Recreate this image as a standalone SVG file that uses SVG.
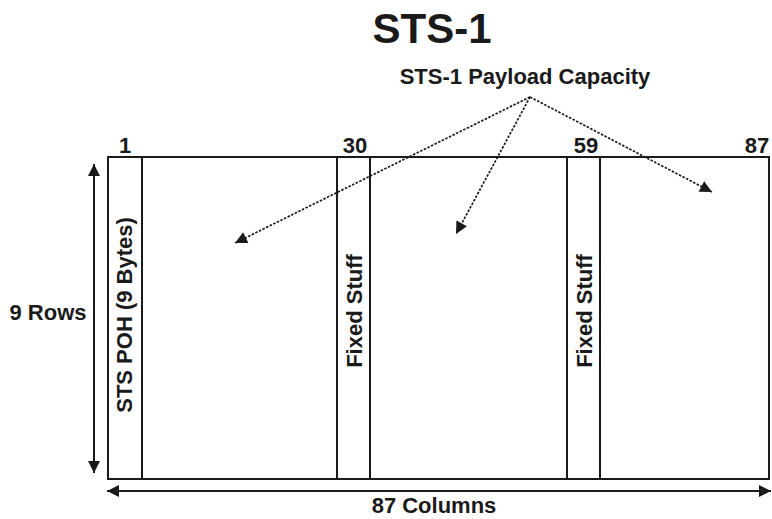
<svg xmlns="http://www.w3.org/2000/svg" width="772" height="519" viewBox="0 0 772 519">
<defs>
<style>
text{font-family:"Liberation Sans",Arial,sans-serif;font-weight:bold;fill:#1a1a1a}
.lbl{font-size:22px}
.box{fill:none;stroke:#1a1a1a;stroke-width:2}
.ln{stroke:#1a1a1a;stroke-width:2}
.dot{stroke:#1a1a1a;stroke-width:1.7;stroke-dasharray:2.5 1.5;fill:none}
.sol{stroke:#1a1a1a;stroke-width:2;fill:none}
</style>
<marker id="ah" viewBox="0 0 10 10" refX="10" refY="5" markerWidth="15" markerHeight="12" markerUnits="userSpaceOnUse" orient="auto">
<path d="M0,0 L10,5 L0,10 z" fill="#1a1a1a"/>
</marker>
<marker id="ah2" viewBox="0 0 10 10" refX="10" refY="5" markerWidth="14" markerHeight="12" markerUnits="userSpaceOnUse" orient="auto">
<path d="M0,0 L10,5 L0,10 z" fill="#1a1a1a"/>
</marker>
</defs>
<g id="title">
<text x="432" y="43" font-size="42" text-anchor="middle">STS-1</text>
</g>
<g id="payload-label">
<text x="525" y="84" class="lbl" text-anchor="middle">STS-1 Payload Capacity</text>
</g>
<g id="frame">
<rect x="108" y="157" width="661" height="322" class="box"/>
<line x1="142" y1="157" x2="142" y2="479" class="ln"/>
<line x1="337" y1="157" x2="337" y2="479" class="ln"/>
<line x1="370" y1="157" x2="370" y2="479" class="ln"/>
<line x1="567" y1="157" x2="567" y2="479" class="ln"/>
<line x1="600" y1="157" x2="600" y2="479" class="ln"/>
</g>
<g id="col-numbers">
<text x="125" y="153" class="lbl" text-anchor="middle">1</text>
<text x="355" y="153" class="lbl" text-anchor="middle">30</text>
<text x="586" y="153" class="lbl" text-anchor="middle">59</text>
<text x="757" y="153" class="lbl" text-anchor="middle">87</text>
</g>
<g id="poh">
<text class="lbl" text-anchor="middle" transform="translate(132,315) rotate(-90)">STS POH (9 Bytes)</text>
</g>
<g id="fixed1">
<text class="lbl" text-anchor="middle" transform="translate(362,311) rotate(-90)">Fixed Stuff</text>
</g>
<g id="fixed2">
<text class="lbl" text-anchor="middle" transform="translate(592,311) rotate(-90)">Fixed Stuff</text>
</g>
<g id="rows-label">
<text x="48" y="320" class="lbl" text-anchor="middle">9 Rows</text>
</g>
<g id="cols-label">
<text x="434" y="513" class="lbl" text-anchor="middle">87 Columns</text>
</g>
<g id="connectors">
<line x1="530" y1="97" x2="235" y2="243" class="dot" marker-end="url(#ah)"/>
<line x1="530" y1="97" x2="456" y2="234" class="dot" marker-end="url(#ah)"/>
<line x1="530" y1="97" x2="712" y2="192" class="dot" marker-end="url(#ah)"/>
<line x1="94" y1="312" x2="94" y2="164" class="sol" marker-end="url(#ah2)"/>
<line x1="94" y1="312" x2="94" y2="473" class="sol" marker-end="url(#ah2)"/>
<line x1="440" y1="491" x2="107" y2="491" class="sol" marker-end="url(#ah2)"/>
<line x1="440" y1="491" x2="771" y2="491" class="sol" marker-end="url(#ah2)"/>
</g>
</svg>
